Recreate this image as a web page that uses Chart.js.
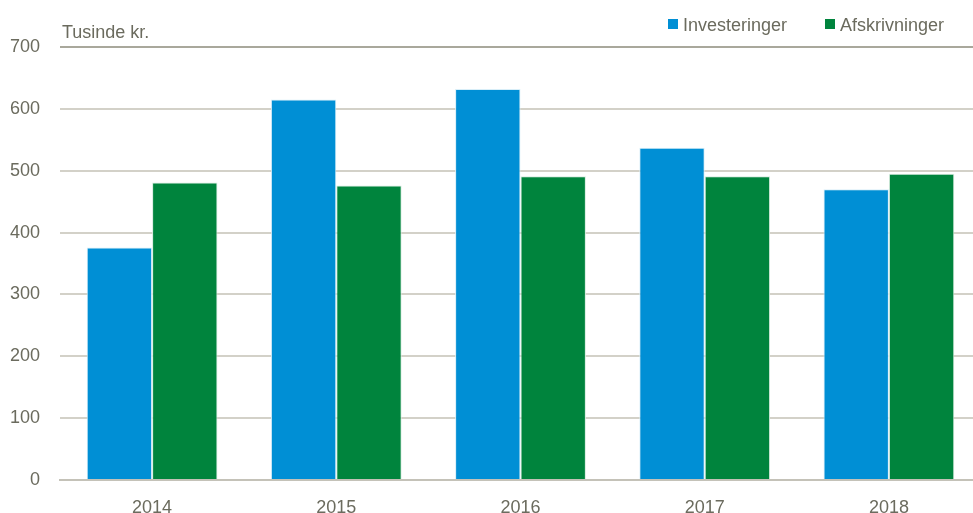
<!DOCTYPE html>
<html>
<head>
<meta charset="utf-8">
<script src="https://cdn.jsdelivr.net/npm/chart.js@4.4.1/dist/chart.umd.min.js"></script>
<style>
  html, body { margin: 0; padding: 0; background: #fff; overflow: hidden; }
  #wrap { width: 973px; height: 513px; overflow: hidden; }
</style>
</head>
<body>
<div id="wrap"><canvas id="chart-1" width="981" height="513"></canvas></div>
<script>
const years = ['2014', '2015', '2016', '2017', '2018'];
const investeringer = [376, 615, 632, 537, 470];
const afskrivninger = [481, 476, 491, 491, 495];
const yTicks = [0, 100, 200, 300, 400, 500, 600, 700];

const font = "'Liberation Sans Narrow', 'Liberation Sans', Arial, sans-serif";
const textColor = '#6b6b5e';

// unit label + legend drawn on top of the chart
const extras = {
    id: 'extras',
    afterDraw(chart) {
        const ctx = chart.ctx;
        ctx.save();
        ctx.font = '18px ' + font;
        ctx.fillStyle = textColor;
        ctx.textBaseline = 'alphabetic';
        ctx.textAlign = 'left';
        ctx.fillText('Tusinde kr.', chart.chartArea.left + 2, 38);

        const items = [
            { x: 668, ds: chart.data.datasets[0] },
            { x: 825, ds: chart.data.datasets[1] },
        ];
        items.forEach(it => {
            ctx.fillStyle = it.ds.backgroundColor;
            ctx.fillRect(it.x, 19, 10, 10);
            ctx.fillStyle = textColor;
            ctx.fillText(it.ds.label, it.x + 15, 31);
        });
        ctx.restore();
    }
};

const ctx1 = document.getElementById('chart-1').getContext('2d');
const myChart = new Chart(ctx1, {
    type: 'bar',
    data: {
        labels: years,
        datasets: [{
            label: 'Investeringer',
            data: investeringer,
            backgroundColor: '#008fd5',
            borderColor: '#d8eef8',
            borderWidth: { top: 1, left: 1, right: 1, bottom: 0 },
            borderSkipped: 'bottom',
        }, {
            label: 'Afskrivninger',
            data: afskrivninger,
            backgroundColor: '#00843d',
            borderColor: '#d6ecdf',
            borderWidth: { top: 1, left: 1, right: 1, bottom: 0 },
            borderSkipped: 'bottom',
        }],
    },
    options: {
        responsive: false,
        animation: false,
        layout: { padding: { top: 47, right: 0, bottom: 0, left: 0 } },
        categoryPercentage: 0.71,
        barPercentage: 1.0,
        plugins: {
            legend: { display: false },
            tooltip: { enabled: false },
        },
        scales: {
            x: {
                grid: { display: false, drawTicks: false },
                border: { display: true, color: '#c4c2b8', width: 2 },
                ticks: {
                    color: textColor,
                    font: { family: font, size: 18 },
                    padding: 17,
                },
                afterFit(scale) { scale.height = 33; },
            },
            y: {
                min: 0,
                max: 700,
                afterBuildTicks(scale) { scale.ticks = yTicks.map(v => ({ value: v })); },
                grid: {
                    drawTicks: false,
                    color: ctx => ctx.tick && ctx.tick.value === 700 ? '#a9a89c' : '#d3d1c8',
                    lineWidth: 2,
                },
                border: { display: false },
                ticks: {
                    color: textColor,
                    font: { family: font, size: 18 },
                    padding: 20,
                },
                afterFit(scale) { scale.width = 60; },
            },
        },
    },
    plugins: [extras],
});
</script>
</body>
</html>
